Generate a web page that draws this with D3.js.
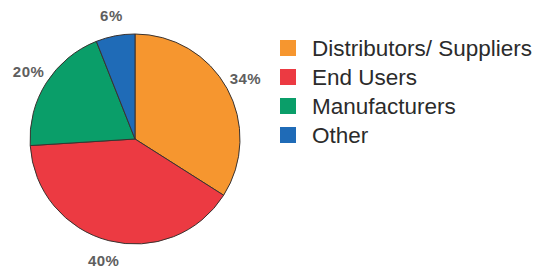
<!DOCTYPE html>
<html>
<head>
<meta charset="utf-8">
<script src="https://cdn.jsdelivr.net/npm/d3@7"></script>
<style>
  html, body { margin: 0; padding: 0; background: #fff; }
  svg { display: block; }
</style>
</head>
<body>
<div id="chart"></div>
<script>
// data
const categories = ["Distributors/ Suppliers", "End Users", "Manufacturers", "Other"];
const shares = [34, 40, 20, 6];
const colors = ["#f6962f", "#ec3a42", "#0a9e69", "#1f6bb7"];

const width = 539;
const height = 269;
const cx = 135;
const cy = 139;
const radius = 105;

const svg = d3.select("#chart")
    .append("svg")
    .attr("width", width)
    .attr("height", height);

const slices = d3.pie().sort(null).value(d => d)(shares);
const arc = d3.arc().innerRadius(0).outerRadius(radius);
const labelArc = d3.arc().innerRadius(126).outerRadius(126);

const pie = svg.append("g")
    .attr("transform", `translate(${cx},${cy})`);

pie.selectAll("path")
    .data(slices)
    .enter()
    .append("path")
    .attr("d", arc)
    .attr("fill", (d, i) => colors[i])
    .attr("stroke", "#3a3330")
    .attr("stroke-width", 1);

// percent labels outside the pie
pie.selectAll("text")
    .data(slices)
    .enter()
    .append("text")
    .attr("transform", d => `translate(${labelArc.centroid(d)})`)
    .attr("text-anchor", "middle")
    .attr("dy", "0.36em")
    .style("font-family", "'Liberation Sans', Arial, sans-serif")
    .style("font-size", "15px")
    .style("font-weight", "bold")
    .style("letter-spacing", "0.5px")
    .attr("fill", "#5e5e5e")
    .text(d => d.data + "%");

// legend
const legend = svg.append("g")
    .attr("transform", "translate(280,40)");

const rows = legend.selectAll("g")
    .data(categories)
    .enter()
    .append("g")
    .attr("transform", (d, i) => `translate(0,${i * 29})`);

rows.append("rect")
    .attr("width", 16)
    .attr("height", 16)
    .attr("fill", (d, i) => colors[i]);

rows.append("text")
    .attr("x", 32)
    .attr("y", 15.5)
    .style("font-family", "'Liberation Sans', Arial, sans-serif")
    .style("font-size", "22.5px")
    .attr("fill", "#2b2b2b")
    .text(d => d);
</script>
</body>
</html>
